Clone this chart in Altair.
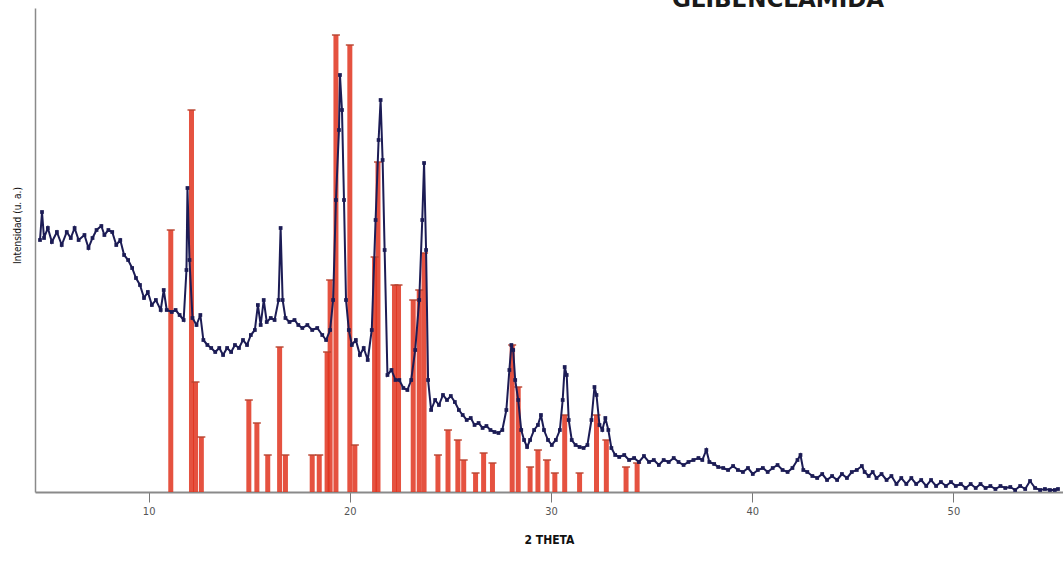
import altair as alt
import pandas as pd

# Experimental pattern (2 theta, intensity a.u.)
exp_theta = [4.60, 4.70, 4.80, 4.99, 5.19, 5.44, 5.68, 5.93, 6.13, 6.32, 6.52, 6.81, 7.01, 7.21, 7.41, 7.65,
             7.80, 8.00, 8.19, 8.39, 8.59, 8.78, 8.98, 9.18, 9.37, 9.57, 9.77, 9.96, 10.16, 10.36, 10.60, 10.75,
             10.90, 11.15, 11.34, 11.54, 11.74, 11.88, 11.93, 12.03, 12.18, 12.38, 12.57, 12.72, 12.92, 13.11,
             13.31, 13.51, 13.70, 13.90, 14.10, 14.29, 14.49, 14.69, 14.89, 15.08, 15.28, 15.43, 15.57, 15.72,
             15.87, 16.07, 16.26, 16.46, 16.56, 16.66, 16.80, 17.00, 17.25, 17.44, 17.64, 17.89, 18.13, 18.38,
             18.63, 18.82, 19.02, 19.17, 19.31, 19.46, 19.51, 19.61, 19.71, 19.81, 19.95, 20.10, 20.30, 20.50,
             20.69, 20.89, 21.09, 21.28, 21.43, 21.53, 21.63, 21.73, 21.87, 22.07, 22.27, 22.46, 22.66, 22.86,
             23.05, 23.25, 23.45, 23.60, 23.69, 23.79, 23.89, 24.04, 24.24, 24.43, 24.63, 24.83, 25.02, 25.22,
             25.42, 25.61, 25.81, 26.01, 26.20, 26.40, 26.60, 26.79, 26.99, 27.19, 27.39, 27.58, 27.78, 27.93,
             28.03, 28.12, 28.22, 28.37, 28.52, 28.66, 28.81, 28.96, 29.16, 29.35, 29.50, 29.65, 29.85, 30.04,
             30.24, 30.44, 30.58, 30.68, 30.78, 30.88, 31.03, 31.22, 31.42, 31.62, 31.81, 32.01, 32.16, 32.26,
             32.41, 32.55, 32.70, 32.85, 33.00, 33.19, 33.39, 33.64, 33.88, 34.13, 34.37, 34.62, 34.87, 35.11,
             35.36, 35.60, 35.85, 36.10, 36.34, 36.59, 36.83, 37.08, 37.33, 37.52, 37.72, 37.87, 38.11, 38.31,
             38.56, 38.80, 39.05, 39.29, 39.54, 39.79, 40.03, 40.28, 40.53, 40.77, 41.02, 41.26, 41.51, 41.76,
             42.00, 42.25, 42.40, 42.54, 42.74, 42.99, 43.23, 43.48, 43.72, 43.97, 44.22, 44.46, 44.71, 44.95,
             45.20, 45.45, 45.59, 45.79, 45.99, 46.18, 46.43, 46.68, 46.92, 47.17, 47.41, 47.66, 47.91, 48.15,
             48.40, 48.65, 48.89, 49.14, 49.38, 49.63, 49.88, 50.12, 50.37, 50.61, 50.86, 51.11, 51.35, 51.60,
             51.84, 52.09, 52.34, 52.58, 52.83, 53.07, 53.32, 53.57, 53.81, 54.06, 54.31, 54.55, 54.80, 55.04,
             55.20]
exp_int = [252, 280, 254, 264, 250, 260, 247, 260, 254, 264, 252, 257, 244, 254, 262, 266,
           257, 262, 260, 247, 252, 237, 232, 224, 214, 207, 194, 200, 187, 192, 182, 202,
           182, 180, 182, 177, 172, 222, 304, 232, 174, 167, 177, 152, 147, 144,
           140, 144, 137, 144, 140, 147, 144, 152, 147, 157, 162, 187, 167, 192,
           170, 174, 172, 192, 264, 192, 174, 170, 172, 167, 164, 167, 162, 164,
           157, 152, 162, 192, 292, 362, 417, 382, 292, 192, 162, 147, 152, 137,
           144, 132, 162, 272, 352, 392, 332, 242, 117, 122, 112, 112, 104, 102,
           112, 142, 192, 272, 329, 242, 112, 82, 92, 87, 97, 92, 96, 90,
           82, 77, 72, 74, 67, 69, 64, 66, 62, 60, 59, 62, 82, 122,
           147, 142, 112, 92, 62, 52, 45, 52, 62, 67, 77, 62, 52, 47,
           52, 62, 92, 125, 117, 72, 52, 47, 45, 44, 47, 72, 105, 97,
           67, 62, 74, 62, 44, 37, 35, 37, 32, 34, 30, 36, 30, 32,
           27, 32, 30, 34, 30, 27, 30, 32, 34, 32, 42, 30, 28, 25,
           24, 22, 26, 22, 20, 24, 18, 22, 24, 20, 24, 27, 22, 20,
           24, 32, 37, 22, 20, 16, 14, 18, 12, 16, 12, 18, 14, 20,
           22, 26, 20, 16, 20, 14, 18, 12, 16, 8, 14, 8, 14, 8,
           12, 6, 12, 6, 10, 6, 10, 6, 8, 4, 8, 4, 8, 4,
           6, 3, 6, 4, 5, 2, 6, 3, 11, 4, 2, 3, 2, 2,
           3]

# Reference pattern peaks (2 theta, relative intensity)
ref_theta = [11.10, 12.13, 12.33, 12.62, 14.98, 15.38, 15.92, 16.51, 16.80, 18.13, 18.48, 18.87, 19.02,
             19.31, 20.00, 20.25, 21.23, 21.40, 22.22, 22.42, 23.15, 23.45, 23.69, 24.38, 24.88, 25.37,
             25.66, 26.25, 26.65, 27.09, 28.07, 28.37, 28.96, 29.35, 29.80, 30.19, 30.68, 31.42, 32.26,
             32.75, 33.73, 34.28]
ref_int = [262, 382, 110, 55, 92, 69, 37, 145, 37, 37, 37, 140, 212,
           457, 447, 47, 235, 330, 207, 207, 192, 202, 239, 37, 62, 52,
           32, 19, 39, 29, 147, 105, 25, 42, 32, 19, 77, 19, 77,
           52, 25, 29]

title_text = ["GLIBENCLAMIDA"]

exp_df = pd.DataFrame({"theta": exp_theta, "intensity": exp_int})
ref_df = pd.DataFrame({"theta": ref_theta, "intensity": ref_int})
title_df = pd.DataFrame({"t": title_text})

FONT = "DejaVu Sans Condensed, Liberation Sans Narrow, sans-serif"

xscale = alt.Scale(domain=[4.6, 55.2], nice=False, zero=False)
yscale = alt.Scale(domain=[0, 484], nice=False)

xaxis = alt.Axis(values=[10, 20, 30, 40, 50], title="2 THETA", grid=False,
                 domainColor="#8a8a8a", domainWidth=2, tickColor="#777777", tickSize=10,
                 tickWidth=1, labelFont=FONT, labelFontSize=11, labelColor="#555555",
                 labelPadding=3, titleFont=FONT, titleFontSize=12, titleFontWeight="bold",
                 titleColor="#111111", titlePadding=18)
yaxis = alt.Axis(title="Intensidad  (u. a.)", grid=False, ticks=False, labels=False,
                 domainColor="#8a8a8a", domainWidth=1.5, titleFont=FONT, titleFontSize=10,
                 titleFontWeight="normal", titleColor="#111111", titleAngle=270,
                 titleX=-18, titleY=217, titleAlign="center", titleBaseline="middle")

bars = alt.Chart(ref_df).mark_bar(width=5, color="#e0341f", opacity=0.85).encode(
    x=alt.X("theta:Q", scale=xscale, axis=xaxis),
    y=alt.Y("intensity:Q", scale=yscale, axis=yaxis),
)
caps = alt.Chart(ref_df).mark_tick(orient="horizontal", size=8, thickness=2, color="#b8432f").encode(
    x=alt.X("theta:Q", scale=xscale),
    y=alt.Y("intensity:Q", scale=yscale),
)
line = alt.Chart(exp_df).mark_line(
    color="#1c1c55", strokeWidth=2,
    point=alt.OverlayMarkDef(filled=True, size=14, shape="square", color="#1c1c55"),
).encode(
    x=alt.X("theta:Q", scale=xscale),
    y=alt.Y("intensity:Q", scale=yscale),
)
title = alt.Chart(title_df).mark_text(
    font="DejaVu Sans", fontSize=23, fontWeight="bold", color="#1a1a1a",
    align="center", baseline="alphabetic",
).encode(text="t:N", x=alt.value(743), y=alt.value(-1))

chart = alt.layer(bars, caps, line, title).properties(
    width=1028, height=484,
    autosize=alt.AutoSizeParams(type="none"),
    padding={"left": 35, "top": 8, "right": 0, "bottom": 71},
).configure(background="white").configure_view(stroke=None)

chart.save("out.html", embed_options={"renderer": "svg", "actions": False})
